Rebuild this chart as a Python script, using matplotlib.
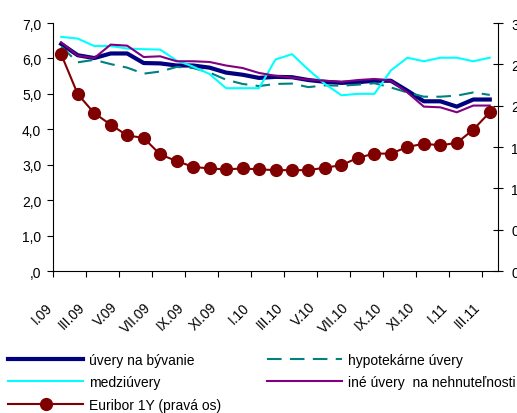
import matplotlib
matplotlib.use('Agg')
import matplotlib.pyplot as plt
from matplotlib.transforms import ScaledTranslation
from matplotlib.ticker import FuncFormatter, FixedLocator

plt.rcParams['font.family'] = ['Liberation Sans', 'DejaVu Sans']
plt.rcParams['font.size'] = 10

months = ['I.09', 'II.09', 'III.09', 'IV.09', 'V.09', 'VI.09', 'VII.09', 'VIII.09', 'IX.09',
          'X.09', 'XI.09', 'XII.09', 'I.10', 'II.10', 'III.10', 'IV.10', 'V.10', 'VI.10',
          'VII.10', 'VIII.10', 'IX.10', 'X.10', 'XI.10', 'XII.10', 'I.11', 'II.11', 'III.11']

uvery_byvanie = [6.41, 6.09, 6.01, 6.14, 6.14, 5.87, 5.86, 5.80, 5.80, 5.74, 5.60, 5.54, 5.45,
                 5.48, 5.47, 5.39, 5.34, 5.31, 5.33, 5.37, 5.37, 5.09, 4.79, 4.79, 4.64, 4.84, 4.84]
hypotekarne = [6.33, 5.89, 5.96, 5.84, 5.74, 5.57, 5.63, 5.76, 5.73, 5.60, 5.40, 5.28, 5.22,
               5.28, 5.29, 5.19, 5.24, 5.23, 5.26, 5.30, 5.18, 5.04, 4.92, 4.92, 4.95, 5.04, 4.97]
medziuvery = [6.61, 6.56, 6.35, 6.35, 6.28, 6.26, 6.25, 5.94, 5.77, 5.56, 5.16, 5.16, 5.16,
              5.97, 6.12, 5.68, 5.28, 4.96, 5.00, 5.00, 5.66, 6.02, 5.92, 6.02, 6.02, 5.92, 6.02]
ine_uvery = [6.45, 6.08, 6.01, 6.39, 6.36, 6.04, 6.06, 5.92, 5.92, 5.90, 5.80, 5.73, 5.59,
             5.51, 5.46, 5.40, 5.37, 5.34, 5.39, 5.42, 5.37, 5.04, 4.64, 4.62, 4.48, 4.67, 4.67]
euribor = [2.62, 2.14, 1.91, 1.77, 1.64, 1.61, 1.41, 1.33, 1.26, 1.24, 1.23, 1.24, 1.23,
           1.22, 1.22, 1.22, 1.25, 1.28, 1.37, 1.42, 1.42, 1.50, 1.54, 1.52, 1.55, 1.71, 1.92]

x = list(range(len(months)))

fig = plt.figure(figsize=(5.17, 4.14), dpi=100)
ax = fig.add_axes([53 / 517, 1 - 272 / 414, 445 / 517, 248 / 414])

l1, = ax.plot(x, uvery_byvanie, color='#000080', lw=3.0, label='úvery na bývanie')
l2, = ax.plot(x, hypotekarne, color='#008080', lw=1.5, dashes=(7, 4), label='hypotekárne úvery')
l3, = ax.plot(x, medziuvery, color='#00FFFF', lw=1.5, label='medziúvery')
l4, = ax.plot(x, ine_uvery, color='#800080', lw=1.5, label='iné úvery  na nehnuteľnosti')

ax.set_xlim(-0.5, len(months) - 0.5)
ax.set_ylim(0, 7)
ax.set_yticks(range(0, 8))
ax.yaxis.set_major_formatter(FuncFormatter(
    lambda v, p: ('%.1f' % v).replace('.', ',').lstrip('0') if v < 1 else ('%.1f' % v).replace('.', ',')))
ax.tick_params(axis='y', direction='out', length=4.5, width=0.8, pad=4, labelsize=10)

# tick marks at category boundaries, labels every second month
ax.xaxis.set_major_locator(FixedLocator([k - 0.5 for k in range(0, len(months), 2)]))
ax.xaxis.set_major_formatter(FuncFormatter(lambda v, p: ''))
ax.xaxis.set_minor_locator(FixedLocator(x[::2]))
ax.set_xticklabels(months[::2], minor=True)
ax.tick_params(axis='x', which='major', direction='out', length=4.5, width=0.8)
ax.tick_params(axis='x', which='minor', length=0, pad=20.5, labelsize=10)
offset = ScaledTranslation(-0.065, 0, fig.dpi_scale_trans)
for lab in ax.get_xticklabels(minor=True):
    lab.set_rotation(45)
    lab.set_ha('right')
    lab.set_va('top')
    lab.set_transform(lab.get_transform() + offset)

ax.spines['top'].set_visible(False)
ax.spines['right'].set_visible(False)
for s in ['left', 'bottom']:
    ax.spines[s].set_linewidth(0.8)

ax2 = ax.twinx()
l5, = ax2.plot(x, euribor, color='#800000', lw=1.5, marker='o', markersize=8.5,
               markerfacecolor='#800000', markeredgecolor='#800000', label='Euribor 1Y (pravá os)')
ax2.set_ylim(0, 3)
ax2.set_yticks([0, 0.5, 1, 1.5, 2, 2.5, 3])
ax2.yaxis.set_major_formatter(FuncFormatter(lambda v, p: ('%.1f' % v).replace('.', ',')))
ax2.tick_params(axis='y', direction='inout', length=7, width=0.8, pad=6, labelsize=10)
ax2.spines['top'].set_visible(False)
ax2.spines['left'].set_visible(False)
ax2.spines['bottom'].set_visible(False)
ax2.spines['right'].set_linewidth(0.8)

fig.legend(handles=[l1, l3, l5, l2, l4], loc='upper left', ncol=2,
           bbox_to_anchor=(8 / 517, 1 - 354 / 414), frameon=False, borderpad=0,
           borderaxespad=0, handlelength=5.4, handletextpad=0.45, columnspacing=3.3,
           labelspacing=0.6, fontsize=10)

fig.savefig('out.png', dpi=100)
